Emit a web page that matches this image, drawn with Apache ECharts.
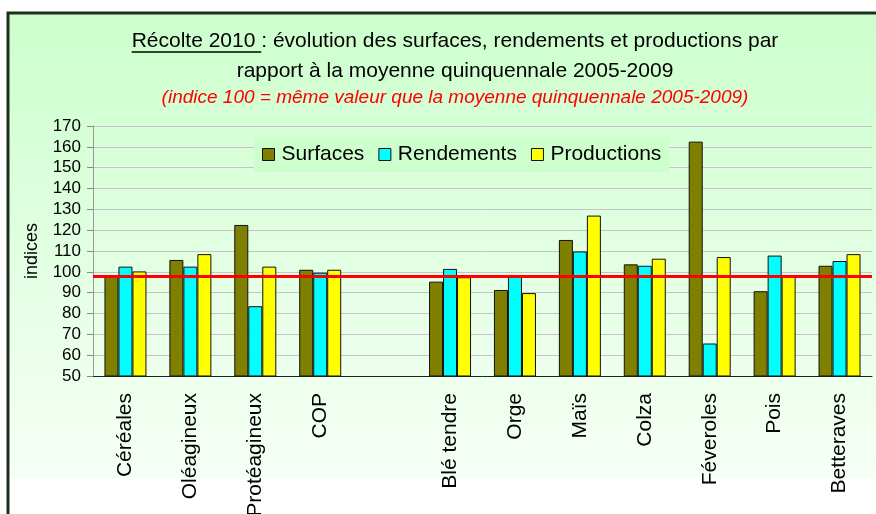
<!DOCTYPE html>
<html>
<head>
<meta charset="utf-8">
<script src="https://cdn.jsdelivr.net/npm/echarts@6/dist/echarts.min.js"></script>
<style>
  html, body { margin: 0; padding: 0; background: #fff; }
  #main { width: 876px; height: 514px; }
</style>
</head>
<body>
<div id="main"></div>
<script>
// categories (the empty one is the gap between COP and Blé tendre)
const categories = ["Céréales", "Oléagineux", "Protéagineux", "COP", "", "Blé tendre", "Orge", "Maïs", "Colza", "Féveroles", "Pois", "Betteraves"];
const surfaces = [98.4, 105.7, 122.5, 101, null, 95.3, 91.3, 115.3, 103.6, 162.5, 90.7, 102.9];
const rendements = [102.5, 102.5, 83.5, 99.6, null, 101.4, 98.3, 109.8, 102.9, 65.6, 107.8, 105.2];
const productions = [100.2, 108.5, 102.5, 101, null, 97.4, 89.8, 127, 106.3, 107.1, 98.4, 108.5];
const refLevel = 98;

const titleUnderlined = "Récolte 2010 ";
const titleLines = [
  "Récolte 2010 : évolution des surfaces, rendements et productions par",
  "rapport à la moyenne quinquennale 2005-2009",
  "(indice 100 = même valeur que la moyenne quinquennale 2005-2009)"
];

const sans = "'Liberation Sans', Arial, sans-serif";
const titleFont = "21px " + sans;
const titleX = 455;

// same gradient for the panel and the legend box
const panelFill = {
  type: "linear", x: 0, y: 14, x2: 0, y2: 478, global: true,
  colorStops: [
    { offset: 0, color: "#ccffcc" },
    { offset: 1, color: "#f6fff6" }
  ]
};

// measure the first title line to place the underline under "Récolte 2010"
var measureCtx = document.createElement("canvas").getContext("2d");
measureCtx.font = titleFont;
var line1Width = measureCtx.measureText(titleLines[0]).width;
var underlineWidth = measureCtx.measureText(titleUnderlined).width;
var line1Start = titleX - line1Width / 2;

var myChart = echarts.init(document.getElementById("main"));

function barSeries(name, data, color) {
  return {
    name: name,
    type: "bar",
    data: data,
    barWidth: 14,
    barGap: "0%",
    itemStyle: { color: color, borderColor: "#111", borderWidth: 1 }
  };
}

var series = [
  barSeries("Surfaces", surfaces, "#808000"),
  barSeries("Rendements", rendements, "#00ffff"),
  barSeries("Productions", productions, "#ffff00")
];
series[2].markLine = {
  silent: true,
  symbol: "none",
  z: 10,
  label: { show: false },
  lineStyle: { color: "#ff0000", width: 3, type: "solid" },
  data: [{ yAxis: refLevel }]
};

var option = {
  animation: false,
  backgroundColor: "#ffffff",
  graphic: [
    {
      type: "rect", z: -10, silent: true,
      shape: { x: 8, y: 13, width: 868, height: 465 },
      style: { fill: panelFill }
    },
    {
      type: "polyline", z: 5, silent: true,
      shape: { points: [[8, 514], [8, 13], [876, 13]] },
      style: { stroke: "#1e2e1e", lineWidth: 3, fill: null }
    },
    {
      type: "text", x: titleX, y: 41,
      style: { text: titleLines[0], font: titleFont, fill: "#000", align: "center", verticalAlign: "middle" }
    },
    {
      type: "text", x: titleX, y: 71,
      style: { text: titleLines[1], font: titleFont, fill: "#000", align: "center", verticalAlign: "middle" }
    },
    {
      type: "text", x: titleX, y: 98,
      style: { text: titleLines[2], font: "italic 19px " + sans, fill: "#ff0000", align: "center", verticalAlign: "middle" }
    },
    {
      type: "line", silent: true,
      shape: { x1: line1Start, y1: 52, x2: line1Start + underlineWidth, y2: 52 },
      style: { stroke: "#000", lineWidth: 1.5 }
    }
  ],
  legend: {
    data: ["Surfaces", "Rendements", "Productions"],
    left: 254,
    top: 137,
    padding: [7, 8, 7, 8],
    backgroundColor: panelFill,
    itemWidth: 12,
    itemHeight: 12,
    itemGap: 14,
    icon: "rect",
    itemStyle: { borderColor: "#111", borderWidth: 1 },
    textStyle: { fontFamily: sans, fontSize: 21, color: "#000", padding: [0, 0, 0, 2] }
  },
  grid: { left: 93, right: 4, top: 126, bottom: 138, containLabel: false, outerBoundsMode: "none" },
  xAxis: {
    type: "category",
    data: categories,
    axisLine: { lineStyle: { color: "#222", width: 1 } },
    axisTick: { length: 6, lineStyle: { color: "#222" } },
    axisLabel: { rotate: 90, fontFamily: sans, fontSize: 21, color: "#000", margin: 17, interval: 0 }
  },
  yAxis: {
    type: "value",
    min: 50,
    max: 170,
    interval: 10,
    name: "indices",
    nameLocation: "middle",
    nameGap: 52,
    nameTextStyle: { fontFamily: sans, fontSize: 18, color: "#000" },
    axisLine: { show: true, lineStyle: { color: "#999" } },
    axisTick: { show: true, length: 6, lineStyle: { color: "#888" } },
    axisLabel: { fontFamily: sans, fontSize: 17, color: "#000", margin: 12 },
    splitLine: { lineStyle: { color: "#c6c2cc", width: 1 } }
  },
  series: series
};

myChart.setOption(option);
</script>
</body>
</html>
